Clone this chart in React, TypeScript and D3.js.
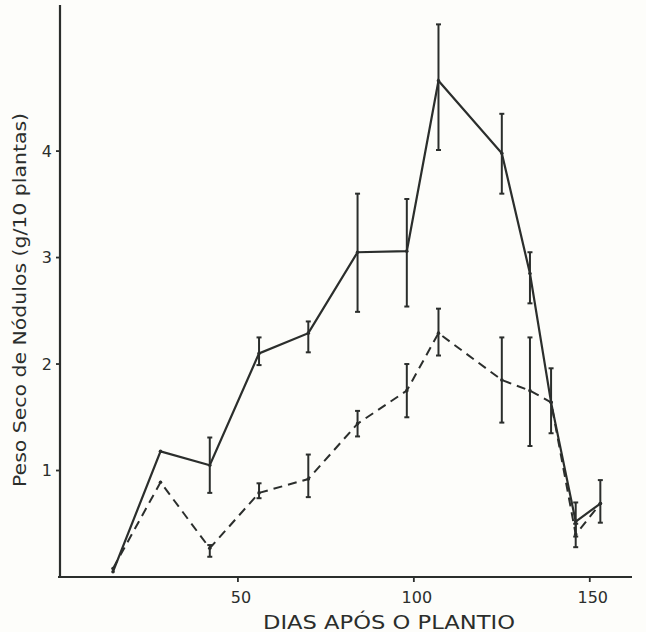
import React from "react";
import * as d3 from "d3";

const W = 646;
const H = 632;

const days = [14.5, 28, 42, 56, 70, 84, 98, 107, 125, 133, 139, 146, 153];
const solidValues = [0.05, 1.18, 1.05, 2.1, 2.29, 3.05, 3.06, 4.66, 3.98, 2.85, 1.64, 0.52, 0.69];
const solidLow = [null, null, 0.79, 1.99, 2.11, 2.49, 2.54, 4.01, 3.6, 2.57, 1.35, 0.38, 0.51];
const solidHigh = [null, null, 1.31, 2.25, 2.4, 3.6, 3.55, 5.19, 4.35, 3.05, 1.96, 0.7, 0.91];
const dashedValues = [0.08, 0.89, 0.27, 0.79, 0.92, 1.44, 1.75, 2.29, 1.85, 1.75, 1.64, 0.4, 0.69];
const dashedLow = [null, null, 0.19, 0.74, 0.75, 1.32, 1.5, 2.08, 1.45, 1.23, null, 0.28, null];
const dashedHigh = [null, null, 0.3, 0.88, 1.15, 1.56, 2.0, 2.52, 2.25, 2.25, null, 0.5, null];

const xTicks = [50, 100, 150];
const yTicks = [1, 2, 3, 4];
const xTitle = "DIAS APÓS O PLANTIO";
const yTitle = "Peso Seco de Nódulos (g/10 plantas)";

const INK = "#2b2e2c";
const FONT = "'DejaVu Sans', 'Liberation Sans', sans-serif";

export default function App() {
  const x = d3.scaleLinear().domain([0, 162]).range([62, 632]);
  const y = d3.scaleLinear().domain([0, 5.4]).range([577, 2]);

  const line = d3
    .line<[number, number]>()
    .x((d) => x(d[0]))
    .y((d) => y(d[1]));

  const solidPts = days.map((d, i) => [d, solidValues[i]] as [number, number]);
  const dashedPts = days.map((d, i) => [d, dashedValues[i]] as [number, number]);

  const errBars = (lo: (number | null)[], hi: (number | null)[], key: string) =>
    days.map((d, i) => {
      const l = lo[i];
      const h = hi[i];
      if (l == null || h == null) return null;
      const cx = x(d);
      return (
        <g key={key + i} stroke={INK} strokeWidth={2}>
          <line x1={cx} x2={cx} y1={y(l)} y2={y(h)} />
          <line x1={cx - 2.5} x2={cx + 2.5} y1={y(l)} y2={y(l)} />
          <line x1={cx - 2.5} x2={cx + 2.5} y1={y(h)} y2={y(h)} />
        </g>
      );
    });

  return (
    <div style={{ position: "fixed", left: 0, top: 0 }}>
      <svg width={W} height={H} style={{ display: "block", background: "#fdfdfa" }}>
        {/* axes */}
        <line x1={x(0) - 2} x2={x(0) - 2} y1={5} y2={577} stroke={INK} strokeWidth={2.2} />
        <line x1={58} x2={632} y1={y(0)} y2={y(0)} stroke={INK} strokeWidth={2.2} />
        {yTicks.map((t) => (
          <g key={"yt" + t}>
            <line x1={56} x2={60} y1={y(t)} y2={y(t)} stroke={INK} strokeWidth={1.8} />
            <text
              x={52}
              y={y(t)}
              dy="0.36em"
              textAnchor="end"
              fontFamily={FONT}
              fontSize={16}
              fill={INK}
            >
              {t}
            </text>
          </g>
        ))}
        {xTicks.map((t) => (
          <g key={"xt" + t}>
            <line x1={x(t)} x2={x(t)} y1={y(0)} y2={y(0) + 5} stroke={INK} strokeWidth={1.8} />
            <text
              x={x(t) + 3}
              y={603}
              textAnchor="middle"
              fontFamily={FONT}
              fontSize={16}
              fill={INK}
            >
              {t}
            </text>
          </g>
        ))}
        <text
          x={389}
          y={629}
          textAnchor="middle"
          fontFamily={FONT}
          fontSize={19}
          fill={INK}
          textLength={252}
          lengthAdjust="spacingAndGlyphs"
        >
          {xTitle}
        </text>
        <text
          transform="translate(26,300) rotate(-90)"
          textAnchor="middle"
          fontFamily={FONT}
          fontSize={17}
          fill={INK}
          textLength={374}
          lengthAdjust="spacingAndGlyphs"
        >
          {yTitle}
        </text>

        {/* series */}
        <path d={line(solidPts) || ""} fill="none" stroke={INK} strokeWidth={2.2} />
        <path
          d={line(dashedPts) || ""}
          fill="none"
          stroke={INK}
          strokeWidth={2}
          strokeDasharray="9,6"
        />
        {errBars(solidLow, solidHigh, "s")}
        {errBars(dashedLow, dashedHigh, "d")}
        {solidPts.map((p, i) => (
          <circle key={"sp" + i} cx={x(p[0])} cy={y(p[1])} r={1.8} fill={INK} />
        ))}
        {dashedPts.map((p, i) => (
          <circle key={"dp" + i} cx={x(p[0])} cy={y(p[1])} r={1.8} fill={INK} />
        ))}
      </svg>
    </div>
  );
}
